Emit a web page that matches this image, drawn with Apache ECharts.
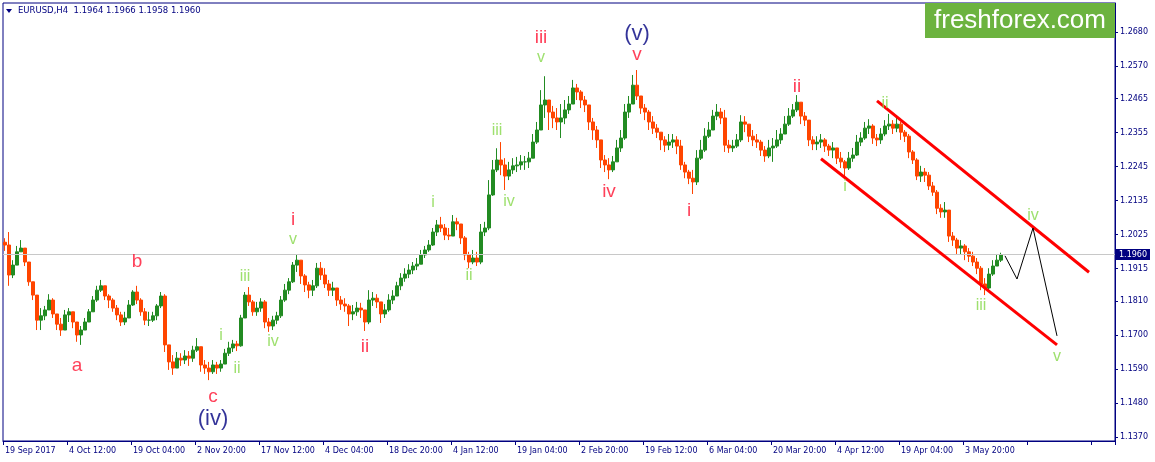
<!DOCTYPE html>
<html><head><meta charset="utf-8">
<script src="https://cdn.jsdelivr.net/npm/echarts@6/dist/echarts.min.js"></script>
<style>html,body{margin:0;padding:0;background:#fff}#c{width:1155px;height:462px}</style>
</head><body><div id="c"></div>
<script>
// ---- data (EURUSD H4, each slot = 4 H4 bars) ----
const firstOpen = 1.2000;
const closes = [
1.1991,1.1894,1.1926,1.1969,1.1981,1.1936,1.1872,1.1829,1.1748,1.1762,
1.1781,1.1813,1.1768,1.1735,1.1716,1.1765,1.1775,1.1742,1.1700,1.1716,
1.1742,1.1775,1.1813,1.1845,1.1859,1.1826,1.1813,1.1787,1.1765,1.1742,
1.1755,1.1797,1.1839,1.1813,1.1775,1.1748,1.1748,1.1762,1.1794,1.1826,
1.1668,1.1613,1.1593,1.1625,1.1619,1.1632,1.1625,1.1651,1.1662,1.1603,
1.1593,1.1581,1.1603,1.1593,1.1606,1.1641,1.1658,1.1671,1.1665,1.1755,
1.1829,1.1807,1.1775,1.1787,1.1807,1.1742,1.1729,1.1748,1.1762,1.1813,
1.1845,1.1872,1.1926,1.1942,1.1891,1.1862,1.1845,1.1859,1.1916,1.1894,
1.1865,1.1845,1.1852,1.1813,1.1800,1.1794,1.1768,1.1775,1.1787,1.1781,
1.1742,1.1813,1.1819,1.1807,1.1768,1.1781,1.1813,1.1826,1.1859,1.1884,
1.1897,1.1910,1.1923,1.1929,1.1959,1.1975,1.1991,1.2033,1.2056,1.2046,
1.2023,1.2020,1.2066,1.2059,1.2014,1.1959,1.1936,1.1949,1.1936,1.2033,
1.2046,1.2153,1.2234,1.2266,1.2250,1.2214,1.2234,1.2247,1.2250,1.2260,
1.2260,1.2272,1.2324,1.2363,1.2444,1.2460,1.2421,1.2402,1.2389,1.2402,
1.2428,1.2447,1.2499,1.2486,1.2460,1.2444,1.2389,1.2363,1.2331,1.2266,
1.2250,1.2234,1.2260,1.2305,1.2337,1.2421,1.2447,1.2508,1.2473,1.2434,
1.2421,1.2389,1.2369,1.2356,1.2331,1.2314,1.2324,1.2331,1.2311,1.2250,
1.2227,1.2207,1.2195,1.2272,1.2298,1.2343,1.2363,1.2408,1.2421,1.2402,
1.2314,1.2305,1.2311,1.2331,1.2389,1.2382,1.2343,1.2331,1.2324,1.2298,
1.2279,1.2305,1.2311,1.2331,1.2350,1.2382,1.2408,1.2428,1.2453,1.2408,
1.2395,1.2331,1.2318,1.2324,1.2331,1.2311,1.2298,1.2305,1.2272,1.2260,
1.2240,1.2272,1.2282,1.2324,1.2337,1.2369,1.2376,1.2337,1.2331,1.2350,
1.2376,1.2382,1.2369,1.2382,1.2356,1.2343,1.2292,1.2266,1.2214,1.2227,
1.2217,1.2182,1.2162,1.2110,1.2098,1.2104,1.2020,1.2007,1.1981,1.1988,
1.1969,1.1955,1.1936,1.1916,1.1865,1.1852,1.1897,1.1923,1.1942,1.1960];
const highs = [
1.2013,1.2033,1.1942,1.1988,1.2007,1.1975,1.1926,1.1865,1.1813,1.1787,
1.1794,1.1832,1.1819,1.1768,1.1755,1.1781,1.1787,1.1775,1.1742,1.1729,
1.1755,1.1784,1.1826,1.1859,1.1878,1.1859,1.1832,1.1819,1.1797,1.1775,
1.1775,1.1813,1.1845,1.1859,1.1819,1.1787,1.1775,1.1775,1.1800,1.1839,
1.1832,1.1651,1.1635,1.1645,1.1641,1.1651,1.1648,1.1665,1.1690,1.1662,
1.1619,1.1613,1.1619,1.1613,1.1619,1.1655,1.1678,1.1684,1.1681,1.1765,
1.1839,1.1855,1.1813,1.1807,1.1819,1.1813,1.1755,1.1762,1.1775,1.1826,
1.1865,1.1884,1.1936,1.1959,1.1936,1.1897,1.1872,1.1878,1.1933,1.1936,
1.1916,1.1878,1.1872,1.1852,1.1826,1.1819,1.1800,1.1797,1.1807,1.1804,
1.1775,1.1845,1.1839,1.1832,1.1800,1.1800,1.1832,1.1845,1.1872,1.1900,
1.1916,1.1929,1.1936,1.1949,1.1975,1.1988,1.2007,1.2046,1.2072,1.2082,
1.2059,1.2046,1.2088,1.2079,1.2053,1.2020,1.1969,1.1975,1.1969,1.2059,
1.2066,1.2201,1.2266,1.2304,1.2324,1.2272,1.2260,1.2272,1.2276,1.2282,
1.2279,1.2292,1.2350,1.2389,1.2492,1.2537,1.2460,1.2441,1.2434,1.2447,
1.2460,1.2473,1.2525,1.2512,1.2492,1.2473,1.2434,1.2402,1.2376,1.2331,
1.2282,1.2272,1.2279,1.2331,1.2363,1.2447,1.2473,1.2541,1.2557,1.2466,
1.2447,1.2428,1.2408,1.2382,1.2350,1.2343,1.2350,1.2350,1.2343,1.2331,
1.2260,1.2234,1.2234,1.2298,1.2331,1.2369,1.2389,1.2428,1.2447,1.2434,
1.2428,1.2331,1.2331,1.2350,1.2411,1.2408,1.2376,1.2363,1.2350,1.2331,
1.2311,1.2331,1.2337,1.2363,1.2369,1.2408,1.2434,1.2447,1.2476,1.2447,
1.2421,1.2395,1.2343,1.2343,1.2350,1.2337,1.2318,1.2324,1.2298,1.2292,
1.2266,1.2292,1.2305,1.2347,1.2356,1.2389,1.2398,1.2382,1.2350,1.2369,
1.2395,1.2415,1.2395,1.2402,1.2389,1.2363,1.2350,1.2298,1.2272,1.2247,
1.2240,1.2227,1.2195,1.2169,1.2123,1.2130,1.2104,1.2033,1.2014,1.2007,
1.1994,1.1981,1.1969,1.1949,1.1923,1.1884,1.1916,1.1942,1.1962,1.1966];
const lows = [
1.1972,1.1859,1.1884,1.1936,1.1969,1.1923,1.1859,1.1813,1.1716,1.1716,
1.1748,1.1781,1.1755,1.1716,1.1697,1.1716,1.1742,1.1722,1.1678,1.1668,
1.1716,1.1742,1.1775,1.1807,1.1839,1.1813,1.1787,1.1775,1.1748,1.1729,
1.1732,1.1755,1.1794,1.1800,1.1762,1.1732,1.1729,1.1742,1.1748,1.1787,
1.1645,1.1587,1.1571,1.1593,1.1600,1.1606,1.1600,1.1613,1.1645,1.1581,
1.1574,1.1554,1.1574,1.1574,1.1581,1.1619,1.1632,1.1645,1.1648,1.1662,
1.1755,1.1794,1.1762,1.1762,1.1775,1.1722,1.1710,1.1716,1.1735,1.1755,
1.1807,1.1832,1.1868,1.1904,1.1865,1.1839,1.1819,1.1826,1.1852,1.1878,
1.1852,1.1826,1.1826,1.1794,1.1781,1.1775,1.1729,1.1748,1.1762,1.1755,
1.1713,1.1735,1.1794,1.1787,1.1739,1.1755,1.1775,1.1800,1.1826,1.1845,
1.1872,1.1884,1.1897,1.1910,1.1936,1.1949,1.1969,1.1988,1.2020,1.2033,
1.2007,1.2007,1.2030,1.2039,1.1994,1.1942,1.1916,1.1929,1.1923,1.1929,
1.2020,1.2039,1.2150,1.2227,1.2217,1.2169,1.2201,1.2221,1.2227,1.2234,
1.2234,1.2240,1.2279,1.2318,1.2369,1.2402,1.2363,1.2369,1.2363,1.2337,
1.2382,1.2415,1.2460,1.2460,1.2434,1.2421,1.2363,1.2331,1.2305,1.2240,
1.2227,1.2204,1.2227,1.2266,1.2292,1.2331,1.2402,1.2460,1.2460,1.2415,
1.2395,1.2363,1.2350,1.2337,1.2298,1.2292,1.2298,1.2305,1.2285,1.2234,
1.2207,1.2188,1.2156,1.2185,1.2266,1.2292,1.2337,1.2376,1.2395,1.2382,
1.2292,1.2289,1.2292,1.2305,1.2324,1.2356,1.2324,1.2311,1.2305,1.2279,
1.2260,1.2272,1.2260,1.2305,1.2318,1.2356,1.2376,1.2402,1.2421,1.2382,
1.2376,1.2311,1.2298,1.2298,1.2305,1.2292,1.2279,1.2272,1.2253,1.2240,
1.2207,1.2234,1.2260,1.2279,1.2311,1.2331,1.2350,1.2318,1.2311,1.2318,
1.2343,1.2363,1.2350,1.2356,1.2331,1.2324,1.2272,1.2253,1.2201,1.2195,
1.2195,1.2169,1.2150,1.2091,1.2079,1.2079,1.2001,1.1988,1.1962,1.1959,
1.1942,1.1936,1.1923,1.1897,1.1845,1.1829,1.1839,1.1891,1.1923,1.1936];

const totalSlots = 278;          // chart width in slots incl. empty right margin
const slotsPerXLabel = 16;
const xTickLabels = ['19 Sep 2017','4 Oct 12:00','19 Oct 04:00','2 Nov 20:00','17 Nov 12:00','4 Dec 04:00',
  '18 Dec 20:00','4 Jan 12:00','19 Jan 04:00','2 Feb 20:00','19 Feb 12:00','6 Mar 04:00','20 Mar 20:00',
  '4 Apr 12:00','19 Apr 04:00','3 May 20:00'];
const yTickValues = [1.2680,1.2570,1.2465,1.2355,1.2245,1.2135,1.2025,1.1915,1.1810,1.1700,1.1590,1.1480,1.1370];
const yMin = 1.13571, yMax = 1.27738;
const lastPrice = 1.1960;
const headerText = 'EURUSD,H4  1.1964 1.1966 1.1958 1.1960';

// channel & projection: [slot, price]
const upperChannel = [[218, 1.2457], [271, 1.1903]];
const lowerChannel = [[204, 1.2270], [263, 1.1668]];
const projection = [[250, 1.1956], [253, 1.1881], [257, 1.2046], [263, 1.1697]];

// wave labels: [text, slot, price]
const redWaves = [['a',18,1.1600],['b',33,1.1936],['c',52,1.1499],['i',72,1.2072],['ii',90,1.1661],
  ['iii',134,1.2660],['v',158,1.2605],['iv',151,1.2162],['i',171,1.2101],['ii',198,1.2502]];
const navyWaves = [['(iv)',52,1.1430],['(v)',158,1.2673]];
const greenWaves = [['v',72,1.2007],['iii',60,1.1888],['i',54,1.1697],['iv',67,1.1678],['ii',58,1.1590],
  ['i',107,1.2127],['ii',116,1.1891],['iii',123,1.2360],['iv',126,1.2133],['v',134,1.2596],
  ['i',210,1.2179],['ii',220,1.2450],['iii',244,1.1794],['iv',257,1.2085],['v',263,1.1629]];

// ---- build ----
const NAVY = '#000080';
const cats = Array.from({length: totalSlots}, (_, i) => String(i));
const ohlc = closes.map((c, i) => {
  const o = i === 0 ? firstOpen : closes[i - 1];
  const hi = Math.max(highs[i], o, c), lo = Math.min(lows[i], o, c);
  return [o, c, lo, hi];
});
const tickFn = (i) => i % slotsPerXLabel === 0;
function waveSeries(list, color, size) {
  return {
    type: 'scatter', symbolSize: 0, silent: true, z: 6,
    data: list.map(w => ({ name: w[0], value: [w[1], w[2]] })),
    label: { show: true, position: 'inside', formatter: '{b}', color: color,
      fontSize: size, fontFamily: 'Liberation Sans, Arial, sans-serif' }
  };
}
const font = 'DejaVu Sans, sans-serif';
const chart = echarts.init(document.getElementById('c'), null, { renderer: 'canvas' });
chart.setOption({
  animation: false,
  backgroundColor: '#ffffff',
  grid: { left: 3, top: 3, width: 1112, height: 438, show: true, borderColor: NAVY, borderWidth: 1,
          containLabel: false, outerBoundsMode: 'none' },
  xAxis: {
    type: 'category', data: cats, boundaryGap: true,
    axisLine: { lineStyle: { color: NAVY, width: 1 } },
    axisTick: { show: true, interval: tickFn, length: 4, lineStyle: { color: NAVY } },
    axisLabel: { interval: tickFn, align: 'left', margin: 6, color: NAVY, fontSize: 8, fontFamily: font,
      formatter: (v, i) => (i % slotsPerXLabel === 0 ? (xTickLabels[i / slotsPerXLabel] || '') : '') },
    splitLine: { show: false }
  },
  yAxis: {
    type: 'value', position: 'right', min: yMin, max: yMax, scale: true,
    axisLine: { show: true, lineStyle: { color: NAVY, width: 1 } },
    axisTick: { show: true, length: 3, lineStyle: { color: NAVY }, customValues: yTickValues },
    axisLabel: { color: NAVY, fontSize: 8, fontFamily: font, margin: 5, customValues: yTickValues,
      formatter: v => v.toFixed(4) },
    splitLine: { show: false }
  },
  series: [
    {
      type: 'candlestick', data: ohlc, barWidth: 3, z: 2,
      itemStyle: { color: '#228B22', color0: '#FF4500', borderColor: '#228B22', borderColor0: '#FF4500', borderWidth: 1 }
    },
    { type: 'line', data: upperChannel, symbol: 'none', silent: true, z: 5, lineStyle: { color: '#ff0000', width: 3 } },
    { type: 'line', data: lowerChannel, symbol: 'none', silent: true, z: 5, lineStyle: { color: '#ff0000', width: 3 } },
    { type: 'line', data: projection, symbol: 'none', silent: true, z: 5, lineStyle: { color: '#000000', width: 1 } },
    {
      type: 'line', data: [], silent: true, z: 1,
      markLine: {
        silent: true, symbol: ['none', 'none'], animation: false, precision: 4,
        lineStyle: { color: '#c8c8c8', width: 1, type: 'solid' },
        label: { show: true, position: 'end', distance: 1, formatter: lastPrice.toFixed(4),
          backgroundColor: NAVY, color: '#ffffff', fontSize: 8, fontFamily: font, padding: [2, 3, 1, 3] },
        data: [{ yAxis: lastPrice }]
      }
    },
    waveSeries(redWaves, '#ff1030', 19),
    waveSeries(greenWaves, '#86d84a', 16),
    waveSeries(navyWaves, NAVY, 22)
  ],
  graphic: [
    { type: 'polygon', shape: { points: [[6, 9], [12, 9], [9, 13]] }, style: { fill: NAVY } },
    { type: 'text', left: 18, top: 6, style: { text: headerText, fill: NAVY, font: '8.5px DejaVu Sans, sans-serif' } },
    { type: 'rect', shape: { x: 925, y: 3, width: 190, height: 35 }, style: { fill: '#6cb33f' }, z: 10 },
    { type: 'text', x: 1020, y: 21, z: 11, style: { text: 'freshforex.com', fill: '#ffffff', align: 'center',
      verticalAlign: 'middle', font: '26px Liberation Sans, Arial, sans-serif' } }
  ]
});
</script>
</body></html>
